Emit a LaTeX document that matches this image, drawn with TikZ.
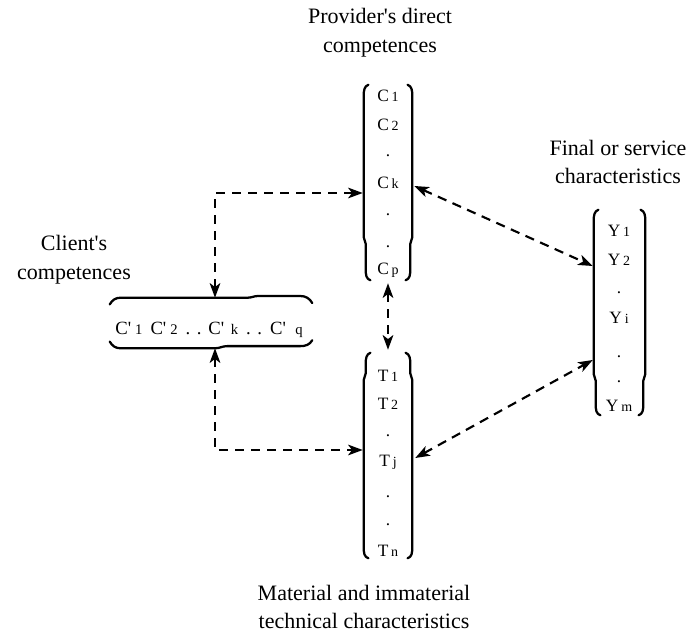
\documentclass[tikz,border=0pt]{standalone}
\usepackage{fontspec}
\setmainfont{Liberation Serif}
\usetikzlibrary{arrows.meta,calc}
\newcommand\ap{\textquotesingle}
\newcommand\lsub[1]{\,{\fontsize{10.5}{12}\selectfont #1}}
\newcommand\bsub[2]{C\ap\hspace{#1}{\fontsize{11}{12}\selectfont #2}}
% #1 node, #2 jog fraction, #3 top inset, #4 bottom inset
\newcommand\colbrk[4]{%
  \draw[brk] ([xshift=#3+3.5pt]#1.north west) to[out=200,in=90] ([xshift=#3,yshift=-8pt]#1.north west)
    -- ($(#1.north west)!#2!(#1.south west)+(#3,0)$)
    to[out=-90,in=90] ($(#1.north west)!#2!(#1.south west)+(#4,-5pt)$)
    -- ([xshift=#4,yshift=8pt]#1.south west) to[out=-90,in=165] ([xshift=#4+3.5pt]#1.south west);
  \draw[brk] ([xshift=-#3-3.5pt]#1.north east) to[out=-20,in=90] ([xshift=-#3,yshift=-8pt]#1.north east)
    -- ($(#1.north east)!#2!(#1.south east)+(-#3,0)$)
    to[out=-90,in=90] ($(#1.north east)!#2!(#1.south east)+(-#4,-5pt)$)
    -- ([xshift=-#4,yshift=8pt]#1.south east) to[out=-90,in=15] ([xshift=-#4-3.5pt]#1.south east);
}
\begin{document}
\begin{tikzpicture}[x=0.75pt,y=-0.75pt,
  lbl/.style={font=\fontsize{16.5}{21.5}\selectfont, align=center, inner sep=0pt},
  item/.style={font=\fontsize{13}{15}\selectfont, inner sep=0pt},
  col/.style={draw=none, inner sep=0pt, minimum width=36pt},
  brk/.style={line width=1.7pt, line join=round, line cap=round},
  link/.style={line width=1.6pt, dash pattern=on 7pt off 5pt,
    {Stealth[length=11pt,width=8pt,inset=3pt]}-{Stealth[length=11pt,width=8pt,inset=3pt]}},
]
\useasboundingbox (0,0) rectangle (689,634);

% labels
\node[lbl] (lprov) at (380,33) {Provider\ap s direct\\competences};
\node[lbl] (lfin) at (618,162) {Final or service\\characteristics};
\node[lbl] (lcli) at (74,260) {Client\ap s\\competences};
\node[lbl] (lmat) at (364,607) {Material and immaterial\\technical characteristics};

% C column
\node[col, minimum height=146.25pt] (ccol) at (388,182.5) {};
\node[item] (c1) at (388,96) {C\lsub{1}};
\node[item] (c2) at (388,125) {C\lsub{2}};
\node[item] (cd0) at (388,156) {.};
\node[item] (ck) at (388,183) {C\lsub{k}};
\node[item] (cd1) at (388,215) {.};
\node[item] (cd2) at (388,247) {.};
\node[item] (cp) at (388,270) {C\lsub{p}};
\colbrk{ccol}{0.78}{0pt}{1.5pt}

% T column
\node[col, minimum height=153.75pt] (tcol) at (388,455.5) {};
\node[item] (t1) at (388,376) {T\lsub{1}};
\node[item] (t2) at (388,404) {T\lsub{2}};
\node[item] (td0) at (388,436) {.};
\node[item] (tj) at (388,462) {T\lsub{j}};
\node[item] (td1) at (388,497) {.};
\node[item] (td2) at (388,525) {.};
\node[item] (tn) at (388,551) {T\lsub{n}};
\colbrk{tcol}{0.1}{1.5pt}{0pt}

% Y column
\node[col, minimum width=38.25pt, minimum height=153.75pt] (ycol) at (619.5,312.5) {};
\node[item] (y1) at (619,231) {Y\lsub{1}};
\node[item] (y2) at (619,260) {Y\lsub{2}};
\node[item] (yd0) at (619,293) {.};
\node[item] (yi) at (619,318) {Y\lsub{i}};
\node[item] (yd1) at (619,357) {.};
\node[item] (yd2) at (619,382) {.};
\node[item] (ym) at (619,406) {Y\lsub{m}};
\colbrk{ycol}{0.8}{0pt}{1.5pt}

% client box
\node[draw=none, inner sep=0pt, minimum width=151.5pt, minimum height=37.5pt] (box) at (211,323) {};
\node[inner sep=0pt, font=\fontsize{14}{16}\selectfont] (ctext) at (209,330)
  {\bsub{3pt}{1}\hspace{6pt}\bsub{3pt}{2}\hspace{6pt}.\hspace{5pt}.\hspace{5pt}\bsub{5pt}{k}\hspace{6pt}.\hspace{5pt}.\hspace{6pt}\bsub{7pt}{q}};
\draw[brk] ([yshift=-5pt]box.north west) to[out=60,in=180] ([xshift=8pt]box.north west)
  -- ($(box.north west)!0.68!(box.north east)$) to[out=0,in=180] ++(8pt,1.3pt)
  -- ([xshift=-9pt,yshift=1.3pt]box.north east) to[out=0,in=120] ([yshift=-4pt]box.north east);
\draw[brk] ([yshift=5pt]box.south west) to[out=-60,in=180] ([xshift=8pt]box.south west)
  -- ($(box.south west)!0.52!(box.south east)$) to[out=0,in=180] ++(9pt,1.6pt)
  -- ([xshift=-9pt,yshift=1.6pt]box.south east) to[out=0,in=-120] ([yshift=6pt]box.south east);

% connector ends
\coordinate (a1s) at ($(box.north)+(4,0)$);
\coordinate (a1e) at ($(ccol.west |- ck.center)+(-1,10)$);
\coordinate (a2s) at ($(box.south)+(4,0)$);
\coordinate (a2e) at ($(tcol.west |- tj.center)+(-1,-12)$);
\coordinate (a3s) at ($(ccol.south)+(0,3)$);
\coordinate (a3e) at ($(tcol.north)+(0,-3)$);
\coordinate (a4s) at ($(ccol.east |- ck.center)+(2,3)$);
\coordinate (a4e) at ($(ycol.west |- y2.center)+(-1,6)$);
\coordinate (a5s) at ($(tcol.east |- tj.center)+(3,-4)$);
\coordinate (a5e) at ($(ycol.west |- yd1.center)+(-1,3)$);

\draw[link] (a1s) |- (a1e);
\draw[link] (a2s) |- (a2e);
\draw[link] (a3s) -- (a3e);
\draw[link] (a4s) -- (a4e);
\draw[link] (a5s) -- (a5e);
\end{tikzpicture}
\end{document}
